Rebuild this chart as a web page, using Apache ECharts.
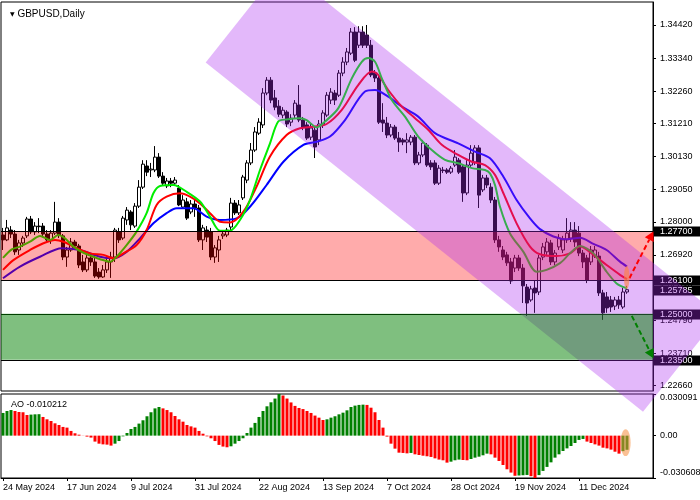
<!DOCTYPE html>
<html><head><meta charset="utf-8">
<script src="https://cdn.jsdelivr.net/npm/echarts@6/dist/echarts.min.js"></script>
<style>html,body{margin:0;padding:0;background:#fff}#c{width:700px;height:500px}</style>
</head><body><div id="c"></div>
<script>
// ---------- data ----------
const symbolTitle = 'GBPUSD,Daily';
const startDate = [2024, 4, 24];
const barCount = 157;
const padBars = 6;
const xTickLabels = ['24 May 2024','17 Jun 2024','9 Jul 2024','31 Jul 2024','22 Aug 2024','13 Sep 2024','7 Oct 2024','28 Oct 2024','19 Nov 2024','11 Dec 2024'];
const xTickStep = 16;
const yTickValues = [1.22660,1.23710,1.24790,1.25840,1.26920,1.28000,1.29050,1.30130,1.31210,1.32260,1.33340,1.34420];
const aoTickValues = [-0.030608, 0, 0.030091];
const priceMin = 1.2248, priceMax = 1.3517;

// [open, close, low, high]
const ohlc = [
[1.2757,1.2741,1.2708,1.2780],[1.2741,1.2780,1.2737,1.2806],[1.2773,1.2760,1.2747,1.2786],[1.2760,1.2702,1.2692,1.2773],
[1.2708,1.2731,1.2692,1.2741],[1.2731,1.2747,1.2718,1.2754],[1.2754,1.2809,1.2747,1.2816],[1.2809,1.2767,1.2760,1.2819],
[1.2767,1.2786,1.2757,1.2799],[1.2786,1.2784,1.2763,1.2812],[1.2786,1.2760,1.2750,1.2796],[1.2760,1.2741,1.2731,1.2773],
[1.2741,1.2763,1.2728,1.2773],[1.2763,1.2799,1.2757,1.2865],[1.2799,1.2757,1.2747,1.2812],[1.2754,1.2685,1.2675,1.2760],
[1.2685,1.2708,1.2653,1.2718],[1.2708,1.2734,1.2702,1.2747],[1.2734,1.2721,1.2708,1.2741],[1.2721,1.2659,1.2649,1.2728],
[1.2669,1.2643,1.2636,1.2692],[1.2643,1.2682,1.2636,1.2692],[1.2682,1.2669,1.2656,1.2695],[1.2669,1.2623,1.2617,1.2692],
[1.2636,1.2620,1.2614,1.2649],[1.2620,1.2643,1.2617,1.2659],[1.2643,1.2669,1.2633,1.2682],[1.2669,1.2685,1.2617,1.2702],
[1.2685,1.2773,1.2669,1.2780],[1.2767,1.2741,1.2731,1.2780],[1.2747,1.2812,1.2741,1.2819],[1.2806,1.2838,1.2790,1.2848],
[1.2832,1.2790,1.2773,1.2838],[1.2786,1.2851,1.2780,1.2861],[1.2851,1.2913,1.2845,1.2936],[1.2913,1.2988,1.2907,1.3001],
[1.2982,1.2962,1.2949,1.3001],[1.2969,1.2972,1.2946,1.2992],[1.2969,1.3011,1.2962,1.3047],[1.3011,1.2949,1.2943,1.3024],
[1.2949,1.2926,1.2920,1.2962],[1.2917,1.2933,1.2910,1.2943],[1.2933,1.2926,1.2913,1.2943],[1.2926,1.2936,1.2917,1.2946],
[1.2910,1.2855,1.2851,1.2920],[1.2848,1.2871,1.2842,1.2887],[1.2865,1.2812,1.2806,1.2878],[1.2832,1.2858,1.2825,1.2871],
[1.2858,1.2845,1.2816,1.2871],[1.2845,1.2741,1.2734,1.2855],[1.2741,1.2780,1.2708,1.2790],[1.2773,1.2750,1.2734,1.2786],
[1.2767,1.2685,1.2675,1.2780],[1.2685,1.2715,1.2666,1.2724],[1.2708,1.2741,1.2669,1.2754],[1.2754,1.2760,1.2744,1.2767],
[1.2757,1.2773,1.2750,1.2780],[1.2783,1.2861,1.2773,1.2878],[1.2861,1.2829,1.2822,1.2871],[1.2829,1.2855,1.2822,1.2871],
[1.2878,1.2946,1.2871,1.2953],[1.2936,1.2992,1.2926,1.3001],[1.2992,1.3034,1.2985,1.3057],[1.3034,1.3093,1.3028,1.3109],
[1.3089,1.3125,1.3083,1.3138],[1.3116,1.3220,1.3106,1.3236],[1.3220,1.3262,1.3213,1.3272],[1.3262,1.3197,1.3187,1.3272],
[1.3204,1.3174,1.3164,1.3230],[1.3177,1.3151,1.3142,1.3197],[1.3148,1.3164,1.3138,1.3174],[1.3158,1.3119,1.3109,1.3164],
[1.3125,1.3138,1.3112,1.3151],[1.3148,1.3187,1.3138,1.3197],[1.3181,1.3132,1.3125,1.3246],[1.3132,1.3109,1.3099,1.3142],
[1.3116,1.3073,1.3067,1.3125],[1.3076,1.3106,1.3067,1.3119],[1.3099,1.3044,1.3008,1.3109],[1.3067,1.3119,1.3050,1.3132],
[1.3116,1.3155,1.3106,1.3164],[1.3148,1.3213,1.3142,1.3223],[1.3197,1.3223,1.3184,1.3236],[1.3220,1.3197,1.3181,1.3230],
[1.3213,1.3285,1.3207,1.3295],[1.3285,1.3321,1.3275,1.3337],[1.3321,1.3354,1.3311,1.3367],[1.3350,1.3419,1.3344,1.3432],
[1.3419,1.3327,1.3321,1.3435],[1.3376,1.3419,1.3367,1.3438],[1.3419,1.3376,1.3367,1.3438],[1.3409,1.3376,1.3367,1.3442],
[1.3376,1.3279,1.3272,1.3393],[1.3285,1.3269,1.3256,1.3295],[1.3269,1.3125,1.3119,1.3279],[1.3132,1.3122,1.3093,1.3187],
[1.3122,1.3083,1.3073,1.3142],[1.3083,1.3109,1.3076,1.3119],[1.3109,1.3073,1.3067,1.3116],[1.3073,1.3060,1.3028,1.3093],
[1.3067,1.3060,1.3050,1.3073],[1.3060,1.3067,1.3024,1.3089],[1.3060,1.3076,1.3050,1.3083],[1.3076,1.2992,1.2985,1.3083],
[1.2992,1.3018,1.2985,1.3028],[1.3018,1.3057,1.3011,1.3067],[1.3050,1.2985,1.2979,1.3057],[1.2992,1.2979,1.2969,1.3001],
[1.2992,1.2926,1.2920,1.3001],[1.2926,1.2975,1.2920,1.2985],[1.2969,1.2967,1.2959,1.2979],[1.2969,1.2962,1.2956,1.2975],
[1.2962,1.2975,1.2956,1.2982],[1.2985,1.3011,1.2979,1.3034],[1.3001,1.2962,1.2956,1.3008],[1.2979,1.2894,1.2865,1.2985],
[1.2894,1.2985,1.2887,1.3001],[1.2985,1.3024,1.2979,1.3050],[1.2995,1.3041,1.2985,1.3050],[1.3041,1.2887,1.2845,1.3050],
[1.2904,1.2943,1.2897,1.2953],[1.2943,1.2920,1.2910,1.2953],[1.2913,1.2871,1.2861,1.2926],[1.2871,1.2741,1.2731,1.2881],
[1.2741,1.2718,1.2702,1.2754],[1.2708,1.2685,1.2675,1.2721],[1.2692,1.2666,1.2656,1.2702],[1.2669,1.2607,1.2597,1.2682],
[1.2649,1.2682,1.2636,1.2692],[1.2682,1.2649,1.2640,1.2692],[1.2649,1.2591,1.2535,1.2662],[1.2587,1.2535,1.2493,1.2597],
[1.2545,1.2581,1.2539,1.2591],[1.2584,1.2568,1.2503,1.2610],[1.2571,1.2682,1.2561,1.2692],[1.2685,1.2718,1.2675,1.2731],
[1.2702,1.2734,1.2692,1.2747],[1.2731,1.2669,1.2659,1.2741],[1.2669,1.2698,1.2659,1.2708],[1.2718,1.2747,1.2708,1.2760],
[1.2708,1.2741,1.2698,1.2754],[1.2741,1.2763,1.2731,1.2812],[1.2747,1.2773,1.2734,1.2799],[1.2773,1.2734,1.2718,1.2799],
[1.2763,1.2698,1.2688,1.2786],[1.2698,1.2669,1.2649,1.2708],[1.2682,1.2610,1.2600,1.2692],[1.2669,1.2708,1.2659,1.2721],
[1.2688,1.2708,1.2682,1.2721],[1.2688,1.2568,1.2558,1.2702],[1.2568,1.2503,1.2480,1.2578],[1.2555,1.2519,1.2503,1.2571],
[1.2545,1.2522,1.2506,1.2558],[1.2525,1.2545,1.2512,1.2555],[1.2545,1.2529,1.2516,1.2558],[1.2522,1.2571,1.2516,1.2584],
[1.2571,1.25785,1.2565,1.2591]
];

// moving averages: [bar index, price]
const maFast = [[0,1.2682],[2.2,1.2710],[4.25,1.2719],[6.75,1.2735],[9.25,1.2754],[11.75,1.2741],[13.8,1.2757],[15.5,1.2746],[17.6,1.2719],[20.1,1.2699],[22.6,1.2686],[24.25,1.2678],[26.75,1.2670],[28.4,1.2686],[30.9,1.2724],[33.4,1.2768],[35.9,1.2828],[37.6,1.2893],[39.25,1.2917],[42.6,1.2920],[45.9,1.2898],[49.25,1.2866],[51.75,1.2817],[54.25,1.2771],[56.75,1.2771],[59.25,1.2806],[61.75,1.2871],[64.25,1.2969],[66.75,1.3056],[68.8,1.3127],[70.9,1.3134],[74.25,1.3138],[75.9,1.3132],[78.4,1.3108],[80.5,1.3127],[83.8,1.3170],[87.2,1.3268],[89.7,1.3322],[91.3,1.3334],[93,1.3322],[94.7,1.3268],[97.2,1.3197],[100.5,1.3143],[103.8,1.3078],[107.2,1.3034],[110.5,1.3002],[113.8,1.2991],[117.2,1.2975],[120.5,1.2969],[121.75,1.2958],[123,1.2920],[124.25,1.2849],[126.75,1.2762],[130.1,1.2702],[133.4,1.2637],[135.9,1.2643],[139.25,1.2665],[141.75,1.2697],[144.25,1.2721],[147.6,1.2697],[150.9,1.2637],[153.4,1.2599],[156,1.2583]];
const maMid = [[0,1.2643],[2.6,1.2675],[6.75,1.2708],[10.1,1.2730],[13,1.2741],[15.1,1.2735],[18.4,1.2714],[21.75,1.2697],[25.1,1.2692],[27.6,1.2681],[30.1,1.2697],[33.4,1.2724],[35.9,1.2773],[38.4,1.2855],[40.9,1.2882],[44.25,1.2893],[46.75,1.2882],[49.25,1.2860],[51.75,1.2828],[54.25,1.2800],[56.75,1.2798],[60.1,1.2833],[63.4,1.2915],[66.75,1.3013],[70.9,1.3083],[74.25,1.3105],[77.6,1.3110],[80.9,1.3119],[84.7,1.3165],[88.8,1.3246],[92.2,1.3290],[93.8,1.3279],[96.3,1.3230],[99.7,1.3176],[103,1.3138],[106.3,1.3100],[109.7,1.3051],[113.8,1.3018],[117.2,1.2996],[120.5,1.2985],[123,1.2953],[125.1,1.2893],[128.4,1.2795],[131.75,1.2719],[134.25,1.2694],[138.4,1.2688],[141.75,1.2697],[144.25,1.2719],[147.6,1.2692],[150.9,1.2659],[154.25,1.2627],[156,1.2613]];
const maSlow = [[0,1.2616],[4.25,1.2654],[9.25,1.2686],[14.7,1.2714],[19.25,1.2708],[24.25,1.2686],[27.6,1.2681],[30.9,1.2702],[34.25,1.2746],[37.6,1.2795],[40.9,1.2828],[43.4,1.2844],[47.6,1.2844],[50.9,1.2817],[54.25,1.2806],[58.4,1.2811],[61.75,1.2849],[65.9,1.2920],[70.1,1.2996],[75.1,1.3051],[78.4,1.3061],[81.75,1.3078],[85.5,1.3132],[90.5,1.3225],[93,1.3230],[96.3,1.3208],[99.7,1.3176],[103.8,1.3143],[108,1.3089],[113.8,1.3056],[118,1.3029],[121.75,1.3007],[125.1,1.2947],[128.4,1.2871],[131.75,1.2811],[134.25,1.2776],[137.6,1.2752],[140.9,1.2743],[144.25,1.2748],[147.6,1.2728],[150.9,1.2708],[154.25,1.2670],[156,1.2654]];

// Awesome Oscillator
const ao = [0.0164,0.0178,0.0185,0.0178,0.0171,0.0169,0.0149,0.0152,0.0154,0.0155,0.0135,0.0118,0.0106,0.0089,0.0077,0.0063,0.0058,0.0034,0.0017,0.0007,
-0.0001,-0.0007,-0.0014,-0.0043,-0.0058,-0.0063,-0.0065,-0.0072,-0.0058,-0.0039,-0.0005,0.0019,0.0048,0.0063,0.0087,0.0111,0.0140,0.0169,0.0197,0.0207,
0.0197,0.0185,0.0169,0.0142,0.0118,0.0101,0.0077,0.0067,0.0058,0.0034,0.0014,-0.0005,-0.0019,-0.0039,-0.0067,-0.0079,-0.0084,-0.0077,-0.0058,-0.0039,
-0.0019,0.0019,0.0058,0.0092,0.0135,0.0178,0.0212,0.0241,0.0268,0.0301,0.0290,0.0268,0.0240,0.0215,0.0200,0.0192,0.0178,0.0164,0.0145,0.0130,
0.0113,0.0118,0.0130,0.0140,0.0154,0.0166,0.0183,0.0207,0.0217,0.0222,0.0224,0.0222,0.0202,0.0169,0.0113,0.0058,-0.0007,-0.0058,-0.0094,-0.0123,
-0.0125,-0.0128,-0.0125,-0.0135,-0.0140,-0.0145,-0.0149,-0.0154,-0.0164,-0.0173,-0.0178,-0.0195,-0.0188,-0.0178,-0.0173,-0.0176,-0.0178,-0.0169,-0.0159,-0.0152,
-0.0142,-0.0130,-0.0135,-0.0159,-0.0183,-0.0212,-0.0243,-0.0267,-0.0290,-0.0288,-0.0286,-0.0284,-0.0293,-0.0306,-0.0285,-0.0255,-0.0226,-0.0193,-0.0159,-0.0135,
-0.0111,-0.0092,-0.0075,-0.0053,-0.0031,-0.0024,-0.0043,-0.0053,-0.0063,-0.0072,-0.0087,-0.0092,-0.0101,-0.0116,-0.0130,-0.0112,-0.010212];

// annotations (chart coordinates: bar index, price)
const levels = [1.27700, 1.26100, 1.25000, 1.23500];
const lastPrice = 1.25785;
const resistanceZone = [1.261, 1.277];
const supportZone = [1.235, 1.250];
const channel = [[50.675,1.3320],[69.75,1.3633],[179.08,1.2494],[160,1.2180]];
const arrows = [[156.6,1.2616,162.6,1.2768],[157.2,1.2493,162.6,1.2355]];
const ellipseMain = [155.25,156.6,1.2581,1.2656];
const ellipseAO = [154.4,156.9,-0.0148,0.0047];

// ---------- styles ----------
const FONT = 'Liberation Sans';
const arrowColors = ['#ff0000', '#008000'];
const channelColor = 'rgba(170,40,240,0.33)';

// ---------- build ----------
const categories = [];
{
  let t = Date.UTC(startDate[0], startDate[1], startDate[2]);
  while (categories.length < barCount + padBars) {
    const d = new Date(t);
    const wd = d.getUTCDay();
    if (wd !== 0 && wd !== 6) categories.push(d.toISOString().slice(0, 10));
    t += 86400000;
  }
}
const nCat = barCount + padBars;
const xMin = -0.5, xMax = nCat - 0.5;

const aoData = ao.map((v, i) => ({
  value: v,
  itemStyle: { color: (i === 0 || v > ao[i - 1]) ? '#008000' : '#ff0000' }
}));

function zoneSeries(zone, color, z) {
  return { type: 'custom', xAxisIndex: 1, yAxisIndex: 0, data: [zone], z: z, silent: true,
    renderItem: (params, api) => {
      const lo = api.value(0), hi = api.value(1);
      const a = api.coord([xMin, hi]), b = api.coord([xMax, lo]);
      return { type: 'rect', shape: { x: a[0], y: a[1], width: b[0] - a[0], height: b[1] - a[1] }, style: { fill: color } };
    } };
}

const chart = echarts.init(document.getElementById('c'), null, { renderer: 'canvas' });
const tickShown = (idx) => idx % xTickStep === 0 && idx / xTickStep < xTickLabels.length;

chart.setOption({
  animation: false,
  backgroundColor: '#ffffff',
  title: [
    { text: '{tri|▼} ' + symbolTitle, left: 5, top: 4,
      textStyle: { fontFamily: FONT, fontSize: 10, fontWeight: 'normal', color: '#000',
        rich: { tri: { fontSize: 6, color: '#000', fontFamily: 'DejaVu Sans' } } } },
    { text: 'AO ' + ao[ao.length - 1].toFixed(6), left: 6, top: 395,
      textStyle: { fontFamily: FONT, fontSize: 9, fontWeight: 'normal', color: '#000' } }
  ],
  grid: [
    { left: 1, top: 2, width: 652, height: 389, show: true, borderColor: '#000', borderWidth: 1, backgroundColor: 'transparent', containLabel: false, outerBoundsMode: 'none' },
    { left: 1, top: 394, width: 652, height: 84, show: true, borderColor: '#000', borderWidth: 1, backgroundColor: 'transparent', containLabel: false, outerBoundsMode: 'none' }
  ],
  xAxis: [
    { type: 'category', gridIndex: 0, data: categories, boundaryGap: true, show: false, axisLine: { onZero: false } },
    { type: 'value', gridIndex: 0, min: xMin, max: xMax, show: false, axisLine: { onZero: false } },
    { type: 'category', gridIndex: 1, data: categories, boundaryGap: true, position: 'bottom',
      axisLine: { show: true, onZero: false, lineStyle: { color: '#000', width: 1 } },
      axisTick: { show: true, alignWithLabel: true, interval: tickShown, length: 3, lineStyle: { color: '#000' } },
      axisLabel: { show: true, interval: tickShown, align: 'left', margin: 5, color: '#000', fontFamily: FONT, fontSize: 9,
        formatter: (val, idx) => xTickLabels[Math.round(idx / xTickStep)] || '' },
      splitLine: { show: false } },
    { type: 'value', gridIndex: 1, min: xMin, max: xMax, show: false, axisLine: { onZero: false } }
  ],
  yAxis: [
    { type: 'value', gridIndex: 0, position: 'right', min: priceMin, max: priceMax,
      axisLine: { show: true, onZero: false, lineStyle: { color: '#000' } },
      axisTick: { show: true, customValues: yTickValues, length: 3, lineStyle: { color: '#000' } },
      axisLabel: { show: true, customValues: yTickValues, margin: 7, color: '#000', fontFamily: FONT, fontSize: 9,
        formatter: v => v.toFixed(5) },
      splitLine: { show: false } },
    { type: 'value', gridIndex: 1, position: 'right', min: aoTickValues[0], max: aoTickValues[2],
      axisLine: { show: true, onZero: false, lineStyle: { color: '#000' } },
      axisTick: { show: true, customValues: aoTickValues, length: 3, lineStyle: { color: '#000' } },
      axisLabel: { show: true, customValues: aoTickValues, margin: 7, color: '#000', fontFamily: FONT, fontSize: 9,
        formatter: v => v > 0 ? '{t|' + v.toFixed(6) + '}' : (v < 0 ? '{b|' + v.toFixed(6) + '}' : '0.00'),
        rich: { t: { padding: [8, 0, 0, 0], fontFamily: FONT, fontSize: 9, color: '#000' },
                b: { padding: [0, 0, 10, 0], fontFamily: FONT, fontSize: 9, color: '#000' } } },
      splitLine: { show: false } }
  ],
  series: [
    { type: 'candlestick', xAxisIndex: 0, yAxisIndex: 0, data: ohlc, barWidth: 3, z: 2, silent: true,
      itemStyle: { color: '#ffffff', color0: '#000000', borderColor: '#000000', borderColor0: '#000000', borderWidth: 1 } },
    { type: 'line', xAxisIndex: 1, yAxisIndex: 0, data: maSlow, showSymbol: false, smooth: 0.3, z: 3, silent: true,
      lineStyle: { color: '#0000ff', width: 2 } },
    { type: 'line', xAxisIndex: 1, yAxisIndex: 0, data: maMid, showSymbol: false, smooth: 0.3, z: 3, silent: true,
      lineStyle: { color: '#ff0000', width: 2 } },
    { type: 'line', xAxisIndex: 1, yAxisIndex: 0, data: maFast, showSymbol: false, smooth: 0.3, z: 3, silent: true,
      lineStyle: { color: '#00ee00', width: 2 } },
    zoneSeries(resistanceZone, 'rgba(255,0,0,0.33)', 4),
    { type: 'custom', xAxisIndex: 1, yAxisIndex: 0, clip: false, z: 5, silent: true,
      data: levels.map(v => [v, 1]).concat([[lastPrice, 0]]),
      renderItem: (params, api) => {
        const v = api.value(0), withLine = api.value(1) === 1;
        const a = api.coord([xMin, v]), b = api.coord([xMax, v]);
        const y = Math.round(a[1]) + 0.5;
        const children = [];
        if (withLine) children.push({ type: 'line', shape: { x1: a[0], y1: y, x2: b[0], y2: y }, style: { stroke: '#000', lineWidth: 1 } });
        children.push({ type: 'text', x: b[0] + 1, y: y, style: { text: v.toFixed(5), fill: '#fff', backgroundColor: '#000',
          padding: [1, 8, 0, 6], fontFamily: FONT, fontSize: 9, lineHeight: 9, align: 'left', verticalAlign: 'middle' } });
        return { type: 'group', children };
      } },
    { type: 'custom', xAxisIndex: 1, yAxisIndex: 0, clip: false, z: 10, silent: true, data: [channel[0]],
      renderItem: (params, api) => ({ type: 'polygon', shape: { points: channel.map(c => api.coord(c)) }, style: { fill: channelColor } }) },
    zoneSeries(supportZone, 'rgba(0,128,0,0.5)', 10.5),
    { type: 'custom', xAxisIndex: 1, yAxisIndex: 0, clip: false, z: 11, silent: true, data: arrows,
      renderItem: (params, api) => {
        const r = arrows[params.dataIndex], col = arrowColors[params.dataIndex];
        const p1 = api.coord([r[0], r[1]]), p2 = api.coord([r[2], r[3]]);
        const dx = p2[0] - p1[0], dy = p2[1] - p1[1], L = Math.hypot(dx, dy), ux = dx / L, uy = dy / L;
        const hl = 9, hw = 5;
        const bx = p2[0] - ux * hl, by = p2[1] - uy * hl;
        return { type: 'group', children: [
          { type: 'line', shape: { x1: p1[0], y1: p1[1], x2: bx, y2: by }, style: { stroke: col, lineWidth: 2, lineDash: [5, 3] } },
          { type: 'polygon', shape: { points: [p2, [bx - uy * hw, by + ux * hw], [bx + uy * hw, by - ux * hw]] }, style: { fill: col } }
        ] };
      } },
    { type: 'custom', xAxisIndex: 1, yAxisIndex: 0, clip: false, z: 11, silent: true, data: [ellipseMain],
      renderItem: (params, api) => {
        const a = api.coord([ellipseMain[0], ellipseMain[3]]), b = api.coord([ellipseMain[1], ellipseMain[2]]);
        return { type: 'ellipse', shape: { cx: (a[0] + b[0]) / 2, cy: (a[1] + b[1]) / 2, rx: (b[0] - a[0]) / 2, ry: (b[1] - a[1]) / 2 },
          style: { fill: 'rgba(255,130,60,0.6)' } };
      } },
    { type: 'bar', xAxisIndex: 2, yAxisIndex: 1, data: aoData, barWidth: 3, z: 2, silent: true },
    { type: 'custom', xAxisIndex: 3, yAxisIndex: 1, clip: false, z: 11, silent: true, data: [ellipseAO],
      renderItem: (params, api) => {
        const a = api.coord([ellipseAO[0], ellipseAO[3]]), b = api.coord([ellipseAO[1], ellipseAO[2]]);
        return { type: 'ellipse', shape: { cx: (a[0] + b[0]) / 2, cy: (a[1] + b[1]) / 2, rx: (b[0] - a[0]) / 2, ry: (b[1] - a[1]) / 2 },
          style: { fill: 'rgba(245,140,60,0.55)' } };
      } }
  ]
});
</script>
</body></html>
